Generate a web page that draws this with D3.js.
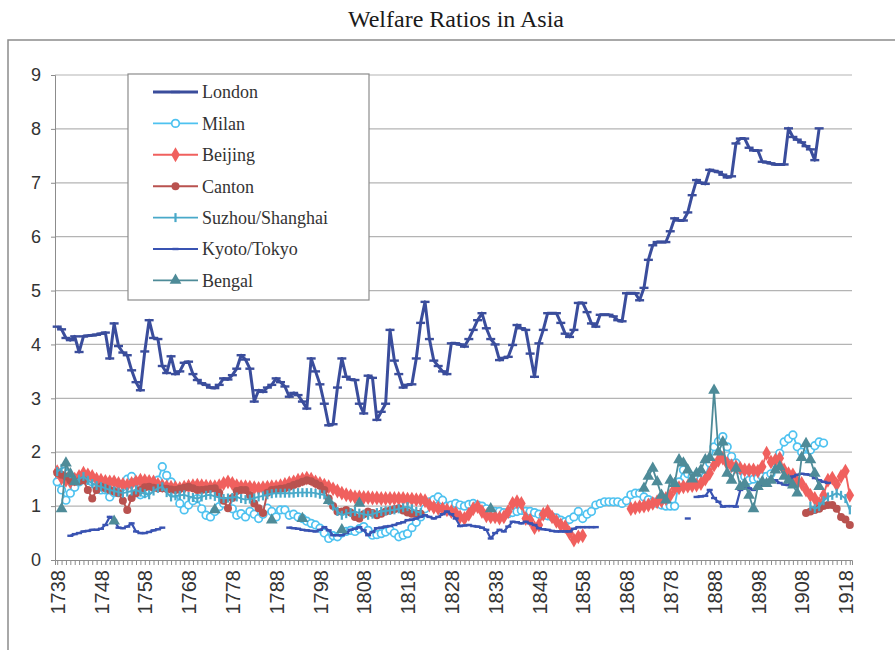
<!DOCTYPE html>
<html>
<head>
<meta charset="utf-8">
<script src="https://cdn.jsdelivr.net/npm/d3@7/dist/d3.min.js"></script>
<style>
    body { margin: 0; background: #fff; }
    svg { display: block; }
</style>
</head>
<body>
<div id="chart"></div>
<script>
// Data
// ============================================================================
const firstYear = 1738, lastYear = 1919;
const tickYears = [1738, 1748, 1758, 1768, 1778, 1788, 1798, 1808, 1818, 1828,
    1838, 1848, 1858, 1868, 1878, 1888, 1898, 1908, 1918];
const yTicks = [0, 1, 2, 3, 4, 5, 6, 7, 8, 9];

// London, 1738-1912
const london1738 = [
    4.33, 4.28, 4.12, 4.08, 4.15, 3.86, 4.15, 4.16, 4.17, 4.18,
    4.2, 4.22, 3.74, 4.39, 3.97, 3.85, 3.8, 3.52, 3.3, 3.15,
    3.87, 4.45, 4.12, 4.1, 3.6, 3.47, 3.78, 3.45, 3.5, 3.66,
    3.68, 3.45, 3.34, 3.28, 3.25, 3.2, 3.19, 3.25, 3.37, 3.35,
    3.43, 3.55, 3.8, 3.72, 3.55, 2.94, 3.15, 3.12, 3.2, 3.25,
    3.37, 3.3, 3.22, 3.03, 3.1, 3.06, 2.94, 2.81, 3.74, 3.5,
    3.26, 2.9, 2.5, 2.52, 3.2, 3.74, 3.4, 3.35, 3.34, 2.9,
    2.72, 3.42, 3.38, 2.6, 2.75, 2.9, 4.27, 3.7, 3.45, 3.2,
    3.25, 3.26, 3.74, 4.4, 4.79, 4.1, 3.7, 3.6, 3.5, 3.45,
    4.02, 4.02, 4.0, 3.96, 4.1, 4.27, 4.45, 4.58, 4.3, 4.1,
    4.0, 3.71, 3.75, 3.77, 3.99, 4.36, 4.3, 4.27, 3.83, 3.4,
    4.02, 4.27, 4.58, 4.58, 4.58, 4.4, 4.2, 4.14, 4.27, 4.77,
    4.77, 4.6, 4.39, 4.33, 4.55, 4.55, 4.55, 4.52, 4.45, 4.43,
    4.95, 4.95, 4.95, 4.82, 5.05, 5.57, 5.84, 5.9, 5.9, 5.9,
    6.1, 6.34, 6.3, 6.3, 6.45, 6.77, 7.05, 7.0, 6.98, 7.24,
    7.22, 7.2, 7.15, 7.1, 7.12, 7.73, 7.82, 7.82, 7.65, 7.6,
    7.6, 7.39, 7.38, 7.36, 7.34, 7.34, 7.34, 8.01, 7.85, 7.8,
    7.75, 7.68, 7.62, 7.42, 8.01];

// Milan, 1738-1913
const milan1738 = [
    1.45, 1.3, 1.11, 1.24, 1.35, 1.45, 1.55, 1.48, 1.45, 1.36,
    1.3, 1.3, 1.17, 1.25, 1.3, 1.36, 1.5, 1.55, 1.45, 1.21,
    1.24, 1.3, 1.4, 1.48, 1.73, 1.57, 1.45, 1.24, 1.05, 0.93,
    1.02, 1.1, 1.14, 0.95, 0.83, 0.8, 0.9, 0.99, 1.05, 1.08,
    0.95, 0.83, 0.86, 0.8, 0.9, 0.85, 0.77, 0.85, 0.96, 0.9,
    0.8, 0.93, 0.93, 0.83, 0.85, 0.8, 0.77, 0.72, 0.68, 0.65,
    0.59, 0.5, 0.4, 0.45, 0.43, 0.5, 0.53, 0.55, 0.53, 0.58,
    0.62, 0.55, 0.46, 0.47, 0.49, 0.52, 0.56, 0.5, 0.43, 0.46,
    0.49, 0.6, 0.7, 0.8, 0.95, 1.08, 1.12, 1.17, 1.11, 1.0,
    1.02, 1.05, 1.02, 1.0, 1.03, 1.05, 1.02, 1.0, 0.95, 0.92,
    0.9, 0.9, 0.88, 0.86, 0.88, 0.9, 0.92, 0.9, 0.9, 0.88,
    0.85, 0.83, 0.82, 0.8, 0.78, 0.74, 0.71, 0.75, 0.8, 0.9,
    0.77, 0.85, 0.9, 1.02, 1.05, 1.08, 1.08, 1.08, 1.08, 1.05,
    1.1, 1.21, 1.24, 1.24, 1.17, 1.12, 1.08, 1.05, 1.02, 1.0,
    1.0, 1.0, 1.45, 1.67, 1.6, 1.55, 1.55, 1.5, 1.55, 1.8,
    2.1, 2.2, 2.29, 2.1, 1.92, 1.8, 1.67, 1.55, 1.48, 1.5,
    1.52, 1.55, 1.55, 1.6, 1.8, 1.98, 2.19, 2.25, 2.32, 2.1,
    2.0, 1.92, 2.04, 2.12, 2.19, 2.17];

// Beijing, 1738-1858 and 1869-1919
const beijing1738 = [
    1.64, 1.52, 1.48, 1.45, 1.5, 1.55, 1.61, 1.58, 1.55, 1.5,
    1.48, 1.46, 1.45, 1.45, 1.42, 1.4, 1.39, 1.42, 1.45, 1.48,
    1.47, 1.46, 1.45, 1.4, 1.38, 1.36, 1.35, 1.34, 1.33, 1.35,
    1.37, 1.38, 1.39, 1.38, 1.37, 1.36, 1.36, 1.38, 1.42, 1.45,
    1.42, 1.38, 1.36, 1.36, 1.35, 1.34, 1.33, 1.34, 1.35, 1.36,
    1.36, 1.38, 1.4, 1.43, 1.45, 1.48, 1.5, 1.52, 1.5, 1.45,
    1.42, 1.39, 1.36, 1.32, 1.28, 1.24, 1.21, 1.19, 1.17, 1.17,
    1.16, 1.16, 1.15, 1.15, 1.14, 1.14, 1.14, 1.14, 1.14, 1.14,
    1.13, 1.13, 1.12, 1.12, 1.1, 1.02, 0.98, 0.96, 0.95, 0.93,
    0.9, 0.87, 0.8, 0.77, 0.85, 0.95, 0.99, 0.9, 0.82, 0.8,
    0.8, 0.78, 0.8, 0.9, 1.05, 1.08, 1.05, 0.77, 0.74, 0.6,
    0.65, 0.85, 0.9, 0.8, 0.72, 0.65, 0.62, 0.5, 0.37, 0.43,
    0.45];
const beijing1869 = [
    0.95, 0.97, 0.99, 1.0, 1.02, 1.05, 1.08, 1.1, 1.14,
    1.2, 1.33, 1.34, 1.36, 1.37, 1.38, 1.39, 1.42, 1.5, 1.61,
    1.76, 1.85, 1.89, 1.79, 1.75, 1.73, 1.7, 1.67, 1.67, 1.67,
    1.65, 1.73, 1.98, 1.82, 1.85, 1.89, 1.67, 1.6, 1.58, 1.45,
    1.42, 1.3, 1.2, 1.14, 1.05, 1.2, 1.48, 1.52, 1.4, 1.55,
    1.65, 1.2];

// Canton, 1738-1821 and 1909-1919
const canton1738 = [
    1.62, 1.58, 1.55, 1.48, 1.45, 1.46, 1.48, 1.3, 1.14, 1.3,
    1.36, 1.33, 1.3, 1.27, 1.24, 1.1, 0.93, 1.15, 1.24, 1.3,
    1.35, 1.36, 1.34, 1.33, 1.33, 1.32, 1.31, 1.3, 1.32, 1.34,
    1.36, 1.33, 1.3, 1.3, 1.31, 1.32, 1.33, 1.25, 1.1, 0.96,
    1.15, 1.28, 1.3, 1.3, 1.2, 1.05, 0.96, 0.87, 1.25, 1.3,
    1.31, 1.32, 1.33, 1.36, 1.39, 1.42, 1.45, 1.48, 1.46, 1.42,
    1.38, 1.3, 1.14, 1.0, 0.9, 0.9, 0.93, 0.88, 0.8, 0.77,
    0.85, 0.9, 0.87, 0.83, 0.86, 0.9, 0.92, 0.94, 0.96, 0.92,
    0.88, 0.86, 0.86, 0.86];
const canton1909 = [0.87, 0.9, 0.93, 0.95, 1.0, 1.02, 1.02, 0.95, 0.8, 0.75, 0.65];

// Suzhou/Shanghai, 1738-1821 and 1910-1919
const suzhou1738 = [
    1.64, 1.7, 1.73, 1.6, 1.48, 1.5, 1.55, 1.48, 1.42, 1.38,
    1.36, 1.33, 1.3, 1.28, 1.26, 1.24, 1.26, 1.28, 1.3, 1.26,
    1.23, 1.21, 1.28, 1.33, 1.36, 1.25, 1.17, 1.19, 1.2, 1.21,
    1.18, 1.16, 1.14, 1.17, 1.2, 1.21, 1.18, 1.16, 1.14, 1.15,
    1.16, 1.17, 1.14, 1.12, 1.13, 1.15, 1.17, 1.19, 1.21, 1.23,
    1.24, 1.24, 1.24, 1.24, 1.24, 1.25, 1.25, 1.25, 1.25, 1.24,
    1.22, 1.21, 1.1, 1.0, 0.9, 0.83, 0.86, 0.88, 0.9, 0.87,
    0.85, 0.83, 0.85, 0.88, 0.9, 0.91, 0.92, 0.93, 0.95, 0.97,
    0.99, 0.95, 0.9, 0.88];
const suzhou1910 = [1.0, 0.95, 0.99, 1.1, 1.17, 1.2, 1.24, 1.2, 1.14, 0.93];

// Kyoto/Tokyo, 1741-1762, 1791-1861, 1882, 1884-1914
const kyoto1741 = [
    0.45, 0.48, 0.5, 0.53, 0.54, 0.56, 0.56, 0.58, 0.65, 0.8,
    0.74, 0.6, 0.59, 0.62, 0.68, 0.53, 0.5, 0.5, 0.52, 0.55,
    0.57, 0.6];
const kyoto1791 = [
    0.6, 0.59, 0.58, 0.56, 0.55, 0.54, 0.53, 0.56, 0.61, 0.55,
    0.46, 0.46, 0.46, 0.5, 0.56, 0.58, 0.61, 0.55, 0.46, 0.52,
    0.59, 0.6, 0.62, 0.63, 0.65, 0.68, 0.7, 0.74, 0.75, 0.77,
    0.8, 0.83, 0.8, 0.77, 0.8, 0.85, 0.9, 0.85, 0.77, 0.63,
    0.64, 0.65, 0.63, 0.62, 0.6, 0.56, 0.4, 0.5, 0.56, 0.53,
    0.62, 0.71, 0.7, 0.68, 0.71, 0.68, 0.65, 0.59, 0.57, 0.56,
    0.54, 0.53, 0.53, 0.53, 0.53, 0.58, 0.61, 0.61, 0.61, 0.61,
    0.61];
const kyoto1882 = [0.77];
const kyoto1884 = [
    1.17, 1.18, 1.19, 1.3, 1.15, 1.08, 0.99, 1.0, 1.0, 0.99,
    1.3, 1.35, 1.33, 1.3, 1.35, 1.39, 1.41, 1.45, 1.48, 1.43,
    1.4, 1.39, 1.55, 1.58, 1.6, 1.59, 1.58, 1.52, 1.48, 1.45,
    1.43];

// Bengal, 1739-1742, scattered years, 1872-1912
const bengal1739 = [0.95, 1.8, 1.6, 1.45];
const bengalSingleYears = [1751, 1774, 1787, 1794, 1800, 1803, 1807, 1837];
const bengalSingleValues = [0.72, 0.93, 0.74, 0.77, 1.1, 0.56, 1.05, 0.95];
const bengal1872 = [
    1.33, 1.55, 1.7, 1.45, 1.2, 1.11, 1.48, 1.42, 1.86, 1.8,
    1.67, 1.5, 1.61, 1.67, 1.86, 1.9, 3.15, 2.0, 2.19, 1.61,
    1.48, 1.7, 1.36, 1.42, 1.2, 0.95, 1.36, 1.45, 1.42, 1.48,
    1.67, 1.73, 1.55, 1.48, 1.39, 1.24, 1.9, 2.16, 1.86, 1.61,
    1.36];

// Define variables
// ============================================================================
const width = 895, height = 650,
    plot = {left: 55, right: 852, top: 75, bottom: 560};

const years = d3.range(firstYear, lastYear + 1);

// Build a full yearly series (null where there is no value) from runs
function buildSeries(runs) {
    const byYear = new Map();
    runs.forEach(r => r.values.forEach((v, i) => byYear.set(r.start + i, v)));
    return years.map(yr => ({year: yr, v: byYear.has(yr) ? byYear.get(yr) : null}));
}

const series = [
    {name: "London", color: "#3a4d9c", width: 3, marker: "hdash",
        runs: [{start: 1738, values: london1738}]},
    {name: "Milan", color: "#4ec2f0", width: 1.8, marker: "ocircle",
        runs: [{start: 1738, values: milan1738}]},
    {name: "Beijing", color: "#f0605e", width: 1.9, marker: "diamond",
        runs: [{start: 1738, values: beijing1738}, {start: 1869, values: beijing1869}]},
    {name: "Canton", color: "#b9524f", width: 1.9, marker: "circle",
        runs: [{start: 1738, values: canton1738}, {start: 1909, values: canton1909}]},
    {name: "Suzhou/Shanghai", color: "#49a9c9", width: 1.9, marker: "vbar",
        runs: [{start: 1738, values: suzhou1738}, {start: 1910, values: suzhou1910}]},
    {name: "Kyoto/Tokyo", color: "#3953b2", width: 2.2, marker: "sdash",
        runs: [{start: 1741, values: kyoto1741}, {start: 1791, values: kyoto1791},
            {start: 1882, values: kyoto1882}, {start: 1884, values: kyoto1884}]},
    {name: "Bengal", color: "#4e8b98", width: 1.8, marker: "triangle",
        runs: [{start: 1739, values: bengal1739}, {start: 1872, values: bengal1872}]
            .concat(bengalSingleYears.map((yr, i) => ({start: yr, values: [bengalSingleValues[i]]})))}
];
series.forEach(s => s.data = buildSeries(s.runs));

// Scales
const xScale = d3.scalePoint()
    .domain(years)
    .range([plot.left, plot.right])
    .padding(0.5);

const yScale = d3.scaleLinear()
    .domain([0, 9])
    .range([plot.bottom, plot.top]);

// Markers
function drawMarker(g, type, color) {
    if (type === "hdash") {
        g.append("line").attr("x1", -4.5).attr("x2", 4.5)
            .attr("stroke", color).attr("stroke-width", 2.4);
    } else if (type === "sdash") {
        g.append("line").attr("x1", -3).attr("x2", 3)
            .attr("stroke", color).attr("stroke-width", 2.4);
    } else if (type === "vbar") {
        g.append("line").attr("y1", -4.5).attr("y2", 4.5)
            .attr("stroke", color).attr("stroke-width", 2.2);
    } else if (type === "ocircle") {
        g.append("circle").attr("r", 3.8)
            .attr("fill", "#fff").attr("stroke", color).attr("stroke-width", 1.7);
    } else if (type === "circle") {
        g.append("circle").attr("r", 4).attr("fill", color);
    } else if (type === "diamond") {
        g.append("path").attr("d", d3.symbol(d3.symbolDiamond, 64)()).attr("fill", color);
    } else if (type === "triangle") {
        g.append("path").attr("d", d3.symbol(d3.symbolTriangle, 60)()).attr("fill", color);
    }
}

// Plot
// ============================================================================
const svg = d3.select("#chart")
    .append("svg")
        .attr("width", width)
        .attr("height", height);

svg.append("rect")
    .attr("width", width).attr("height", height).attr("fill", "#fff");

// Outer chart border
svg.append("rect")
    .attr("x", 8).attr("y", 40)
    .attr("width", 900).attr("height", 640)
    .attr("fill", "none")
    .attr("stroke", "#8c8c8c")
    .attr("stroke-width", 1.5);

// Title
svg.append("text")
    .attr("x", 456).attr("y", 27)
    .attr("text-anchor", "middle")
    .attr("font-family", "'Liberation Serif', 'Times New Roman', serif")
    .attr("font-size", 24)
    .attr("fill", "#1a1a1a")
    .text("Welfare Ratios in Asia");

// Gridlines
svg.append("g")
    .selectAll("line")
    .data(yTicks.filter(d => d > 0))
    .join("line")
        .attr("x1", plot.left).attr("x2", plot.right)
        .attr("y1", d => yScale(d)).attr("y2", d => yScale(d))
        .attr("stroke", "#b4b4b4")
        .attr("stroke-width", 1.2);

// Axes
const yAxis = svg.append("g")
    .attr("transform", "translate(" + plot.left + ",0)")
    .call(d3.axisLeft(yScale).tickValues(yTicks).tickSize(4).tickPadding(10));
yAxis.selectAll("text")
    .attr("font-family", "Arial, 'Liberation Sans', sans-serif")
    .attr("font-size", 18)
    .attr("fill", "#333");

const xAxis = svg.append("g")
    .attr("transform", "translate(0," + plot.bottom + ")")
    .call(d3.axisBottom(xScale)
        .tickValues(years)
        .tickSize(5)
        .tickFormat(d => tickYears.includes(d) ? d : ""));
xAxis.selectAll("text")
    .attr("transform", "rotate(-90)")
    .attr("x", -10).attr("y", 0).attr("dy", "0.36em")
    .attr("text-anchor", "end")
    .attr("font-family", "Arial, 'Liberation Sans', sans-serif")
    .attr("font-size", 20)
    .attr("fill", "#333");

svg.selectAll(".domain, .tick line").attr("stroke", "#8c8c8c");

// Lines and markers
const line = d3.line()
    .defined(d => d.v !== null)
    .x(d => xScale(d.year))
    .y(d => yScale(d.v));

series.forEach(s => {
    svg.append("path")
        .datum(s.data)
        .attr("fill", "none")
        .attr("stroke", s.color)
        .attr("stroke-width", s.width)
        .attr("stroke-linejoin", "round")
        .attr("d", line);

    svg.append("g")
        .selectAll("g")
        .data(s.data.filter(d => d.v !== null))
        .join("g")
            .attr("transform", d => "translate(" + xScale(d.year) + "," + yScale(d.v) + ")")
            .each(function() { drawMarker(d3.select(this), s.marker, s.color); });
});

// Legend
const legend = svg.append("g");
legend.append("rect")
    .attr("x", 128).attr("y", 74)
    .attr("width", 241).attr("height", 226)
    .attr("fill", "#fff")
    .attr("stroke", "#8c8c8c")
    .attr("stroke-width", 1.2);

series.forEach((s, i) => {
    const ly = 92 + i * 31.4;
    legend.append("line")
        .attr("x1", 153).attr("x2", 198)
        .attr("y1", ly).attr("y2", ly)
        .attr("stroke", s.color)
        .attr("stroke-width", s.width);
    drawMarker(legend.append("g").attr("transform", "translate(175.5," + ly + ")"), s.marker, s.color);
    legend.append("text")
        .attr("x", 202).attr("y", ly).attr("dy", "0.35em")
        .attr("font-family", "'Liberation Serif', 'Times New Roman', serif")
        .attr("font-size", 18)
        .attr("fill", "#333")
        .text(s.name);
});
</script>
</body>
</html>
